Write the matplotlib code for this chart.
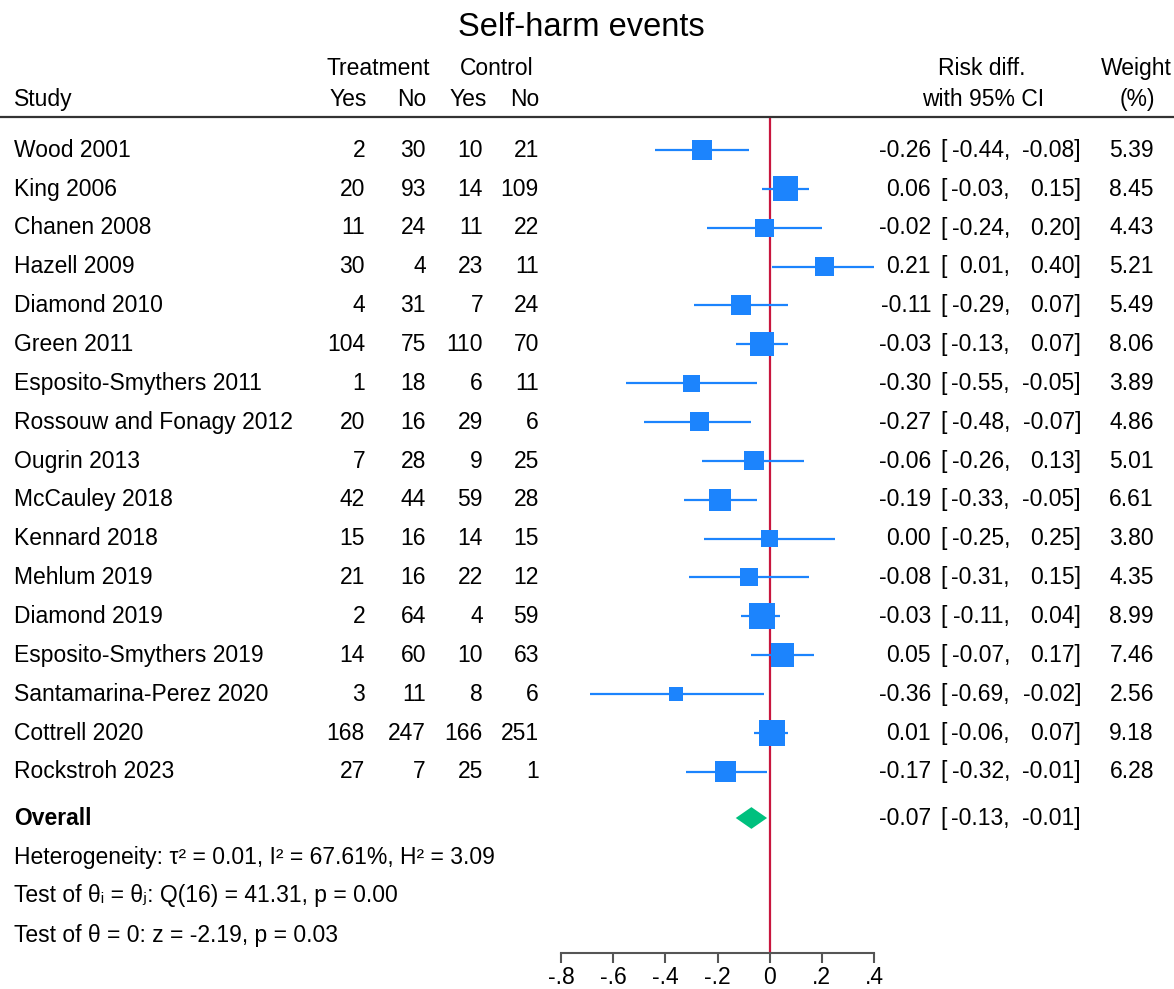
import matplotlib
matplotlib.use("Agg")
import matplotlib.pyplot as plt
import matplotlib.transforms as mtransforms
from matplotlib.patches import Polygon

plt.rcParams['font.family'] = ['Liberation Sans', 'DejaVu Sans']

# study level data
studies = ["Wood 2001", "King 2006", "Chanen 2008", "Hazell 2009", "Diamond 2010",
           "Green 2011", "Esposito-Smythers 2011", "Rossouw and Fonagy 2012",
           "Ougrin 2013", "McCauley 2018", "Kennard 2018", "Mehlum 2019",
           "Diamond 2019", "Esposito-Smythers 2019", "Santamarina-Perez 2020",
           "Cottrell 2020", "Rockstroh 2023"]
treat_yes = [2, 20, 11, 30, 4, 104, 1, 20, 7, 42, 15, 21, 2, 14, 3, 168, 27]
treat_no = [30, 93, 24, 4, 31, 75, 18, 16, 28, 44, 16, 16, 64, 60, 11, 247, 7]
ctrl_yes = [10, 14, 11, 23, 7, 110, 6, 29, 9, 59, 14, 22, 4, 10, 8, 166, 25]
ctrl_no = [21, 109, 22, 11, 24, 70, 11, 6, 25, 28, 15, 12, 59, 63, 6, 251, 1]
rd = [-0.26, 0.06, -0.02, 0.21, -0.11, -0.03, -0.30, -0.27, -0.06, -0.19,
      0.00, -0.08, -0.03, 0.05, -0.36, 0.01, -0.17]
ci_lo = [-0.44, -0.03, -0.24, 0.01, -0.29, -0.13, -0.55, -0.48, -0.26, -0.33,
         -0.25, -0.31, -0.11, -0.07, -0.69, -0.06, -0.32]
ci_hi = [-0.08, 0.15, 0.20, 0.40, 0.07, 0.07, -0.05, -0.07, 0.13, -0.05,
         0.25, 0.15, 0.04, 0.17, -0.02, 0.07, -0.01]
weights = [5.39, 8.45, 4.43, 5.21, 5.49, 8.06, 3.89, 4.86, 5.01, 6.61,
           3.80, 4.35, 8.99, 7.46, 2.56, 9.18, 6.28]

overall = [-0.07, -0.13, -0.01]
het_text = "Heterogeneity: τ² = 0.01, I² = 67.61%, H² = 3.09"
q_text = "Test of θᵢ = θⱼ: Q(16) = 41.31, p = 0.00"
z_text = "Test of θ = 0: z = -2.19, p = 0.03"

xticks = [-0.8, -0.6, -0.4, -0.2, 0, 0.2, 0.4]
xticklabels = ["-.8", "-.6", "-.4", "-.2", "0", ".2", ".4"]

W, H = 1174, 989
blue = "#1c84fd"
green = "#00c07e"
red = "#c8163e"
fs = 16.5

fig = plt.figure(figsize=(W / 100, H / 100), dpi=100)

def fx(px):
    return px / W

def fy(py):
    return 1 - py / H

# forest panel
ax = fig.add_axes([fx(561), fy(953), fx(874) - fx(561), fy(118) - fy(953)])
ax.set_xlim(-0.8, 0.4)
row0, step = 150, 38.85
ax.set_ylim((953 - row0) / step, (118 - row0) / step)
rows = list(range(len(studies)))
overall_row = (818 - row0) / step

for s in ["top", "left", "right"]:
    ax.spines[s].set_visible(False)
ax.spines["bottom"].set_color("#555555")
ax.spines["bottom"].set_linewidth(1.5)
ax.set_yticks([])
ax.set_xticks(xticks)
ax.set_xticklabels(xticklabels, fontsize=fs)
ax.tick_params(axis="x", length=7, width=1.5, color="#555555", pad=2)
ax.patch.set_visible(False)

ax.axvline(0, color=red, lw=1.6, zorder=1)

ax.hlines(rows, ci_lo, ci_hi, color=blue, lw=1.6, zorder=2)
ax.scatter(rd, rows, s=[38.4 * w for w in weights], marker="s", color=blue,
           linewidths=0, zorder=3)

est, lo, hi = overall
dh = 0.28
ax.add_patch(Polygon([[lo, overall_row], [est, overall_row - dh],
                      [hi, overall_row], [est, overall_row + dh]],
                     closed=True, facecolor=green, edgecolor="none", zorder=3))

# text columns share the row positions of the forest panel, set on the baseline
tr = mtransforms.blended_transform_factory(fig.transFigure, ax.transData)
tr = mtransforms.offset_copy(tr, fig=fig, y=-6.8, units="dots")
base = -6.8  # baseline offset below the row centre, in pixels

def fmt(v):
    return "%.2f" % v

def row_text(px, row, s, ha, **extra):
    fig.text(fx(px), row, s, ha=ha, va="baseline", transform=tr,
             fontsize=fs, **extra)

def page_text(px, py, s, ha, size=fs, **extra):
    fig.text(fx(px), fy(py - base), s, ha=ha, va="baseline",
             fontsize=size, **extra)

def ci_text(row, e, l, h):
    row_text(931, row, fmt(e), "right")
    row_text(940, row, "[", "left")
    row_text(1010, row, fmt(l) + ",", "right")
    row_text(1081, row, fmt(h) + "]", "right")

for i, name in enumerate(studies):
    row_text(14, i, name, "left")
    row_text(365, i, str(treat_yes[i]), "right")
    row_text(426, i, str(treat_no[i]), "right")
    row_text(483, i, str(ctrl_yes[i]), "right")
    row_text(539, i, str(ctrl_no[i]), "right")
    ci_text(i, rd[i], ci_lo[i], ci_hi[i])
    row_text(1154, i, fmt(weights[i]), "right")

row_text(14, overall_row, "Overall", "left", fontweight="bold")
ci_text(overall_row, est, lo, hi)

page_text(14, 857, het_text, "left")
page_text(14, 895, q_text, "left")
page_text(14, 935, z_text, "left")

# header
fig.text(fx(581), fy(36), "Self-harm events", ha="center", va="baseline", fontsize=23.5)
page_text(378, 68, "Treatment", "center")
page_text(497, 68, "Control", "center")
page_text(982, 68, "Risk diff.", "center")
page_text(1136, 68, "Weight", "center")
page_text(14, 99, "Study", "left")
page_text(367, 99, "Yes", "right")
page_text(426, 99, "No", "right")
page_text(487, 99, "Yes", "right")
page_text(539, 99, "No", "right")
page_text(983, 99, "with 95% CI", "center")
page_text(1137, 99, "(%)", "center")

fig.add_artist(plt.Line2D([0, 1], [fy(117), fy(117)], transform=fig.transFigure,
                          color="#333333", lw=1.6))

fig.savefig("out.png", dpi=100)
